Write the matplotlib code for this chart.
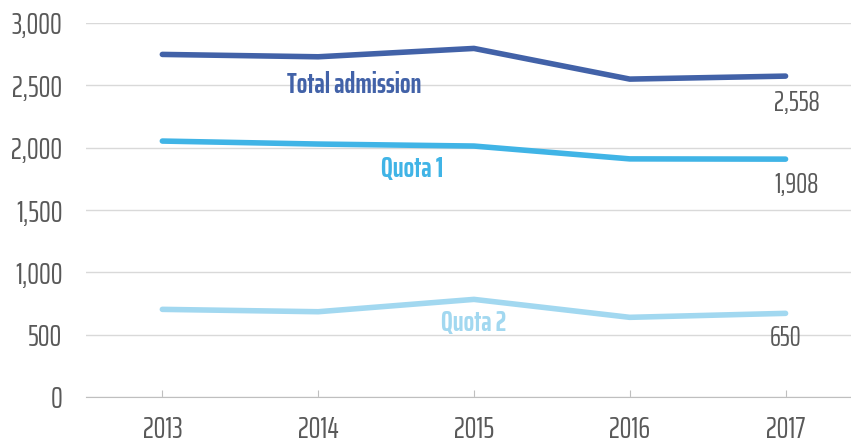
import matplotlib
matplotlib.use("Agg")
import matplotlib.pyplot as plt
from matplotlib import font_manager as fm

years = ["2013", "2014", "2015", "2016", "2017"]
total_admission = [2748, 2729, 2796, 2550, 2574]
quota_1 = [2053, 2029, 2013, 1910, 1908]
quota_2 = [703, 684, 783, 639, 671]
end_labels = ["2,558", "1,908", "650"]
series_names = ["Total admission", "Quota 1", "Quota 2"]
y_ticks = [0, 500, 1000, 1500, 2000, 2500, 3000]

names = {f.name for f in fm.fontManager.ttflist}
fam = next((n for n in ["Saira ExtraCondensed", "Saira Condensed", "Barlow Condensed", "Roboto Condensed"] if n in names), "DejaVu Sans")
plt.rcParams["font.family"] = [fam, "DejaVu Sans"]

fig = plt.figure(figsize=(8.51, 4.45), dpi=100)
ax = fig.add_axes([86/851, 1-397/445, 1-86/851, (397-23)/445])

colors = ["#4262A8", "#40B4E6", "#A2D8F0"]
series = [total_admission, quota_1, quota_2]
x = list(range(len(years)))
for s, c in zip(series, colors):
    ax.plot(x, s, color=c, lw=4.0, solid_capstyle="round", zorder=3)

ax.set_ylim(0, 3000)
ax.set_xlim(-0.49, 4.42)
ax.set_yticks(y_ticks)
ax.set_yticklabels([f"{v:,}" for v in y_ticks])
ax.set_xticks(x)
ax.set_xticklabels(years)
ax.grid(axis="y", color="#D9D9D9", lw=1.0, zorder=0)
for sp in ["top", "right", "left"]:
    ax.spines[sp].set_visible(False)
ax.spines["bottom"].set_color("#BFBFBF")
ax.tick_params(axis="y", length=0, pad=17, labelsize=21.5, labelcolor="#595959")
ax.tick_params(axis="x", direction="in", length=5, color="#BFBFBF", pad=13,
               labelsize=21.5, labelcolor="#595959")

# series labels
label_pos = [(1.23, 2505), (1.6, 1830), (2.0, 590)]
for name, (lx, ly), c in zip(series_names, label_pos, colors):
    ax.text(lx, ly, name, color=c, fontsize=20, fontweight="bold",
            ha="center", va="center")
# end value labels
end_pos = [(4.07, 2360), (4.07, 1700), (4.0, 470)]
for t, (lx, ly) in zip(end_labels, end_pos):
    ax.text(lx, ly, t, color="#595959", fontsize=20, ha="center", va="center")

fig.savefig("out.png", dpi=100)
